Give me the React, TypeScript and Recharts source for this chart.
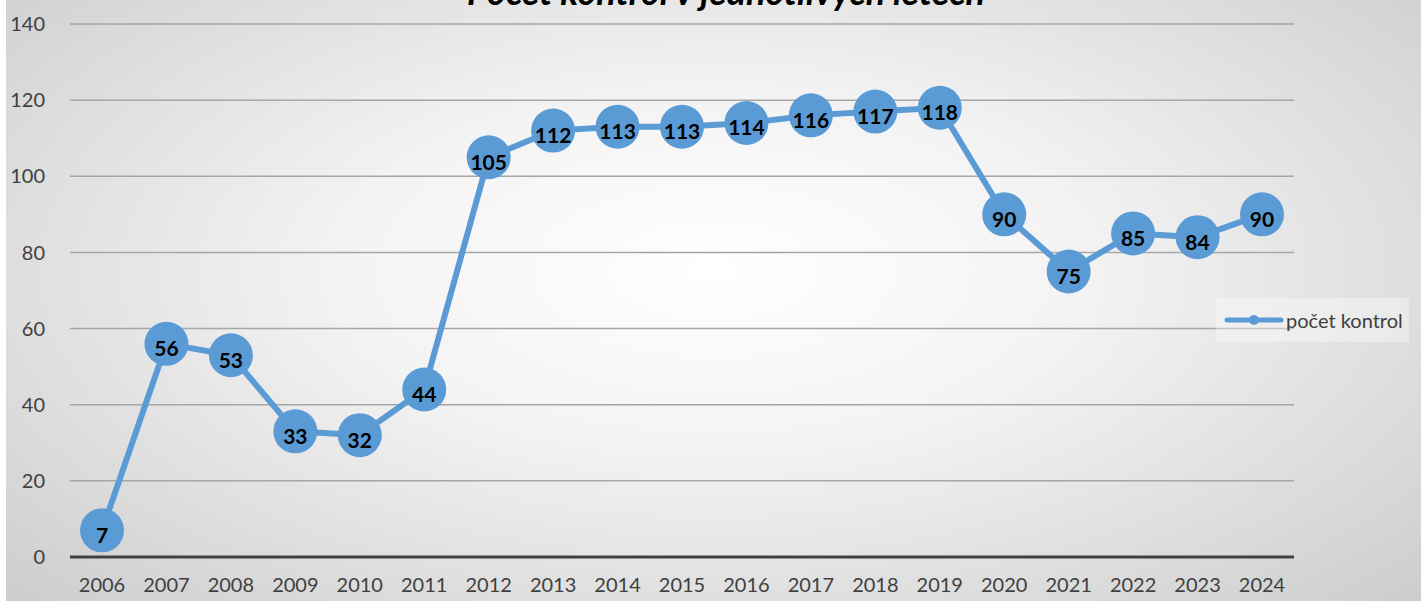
import { LineChart, Line, XAxis, YAxis, CartesianGrid, LabelList } from "recharts";

const years = [
  "2006", "2007", "2008", "2009", "2010", "2011", "2012", "2013", "2014", "2015",
  "2016", "2017", "2018", "2019", "2020", "2021", "2022", "2023", "2024",
];
const kontroly = [7, 56, 53, 33, 32, 44, 105, 112, 113, 113, 114, 116, 117, 118, 90, 75, 85, 84, 90];
const yTicks = [0, 20, 40, 60, 80, 100, 120, 140];

const seriesName = "počet kontrol";
const blue = "#5B9BD5";
const font = "Lato, 'Open Sans', sans-serif";

const data = years.map((year, i) => ({ year, value: kontroly[i] }));

function PointLabel(props: any) {
  const { x, y, value } = props;
  return (
    <text
      x={x}
      y={y + 4}
      textAnchor="middle"
      dominantBaseline="central"
      fontFamily={font}
      fontWeight={700}
      fontSize={21}
      fill="#000"
    >
      {value}
    </text>
  );
}

// legend drawn outside the chart so it doesn't eat into the plot area
function LegendBox() {
  return (
    <div
      style={{
        position: "absolute",
        left: 1210,
        top: 298,
        display: "flex",
        alignItems: "center",
        background: "rgba(255,255,255,0.35)",
        padding: "10px 6px 10px 8px",
        fontFamily: font,
        fontSize: 20,
        color: "#404040",
        whiteSpace: "nowrap",
      }}
    >
      <svg width={60} height={20} style={{ marginRight: 2 }}>
        <line x1={3} y1={10} x2={57} y2={10} stroke={blue} strokeWidth={5} strokeLinecap="round" />
        <circle cx={30} cy={10} r={5} fill={blue} />
      </svg>
      {seriesName}
    </div>
  );
}

export default function App() {
  return (
    <div
      style={{
        position: "absolute",
        left: 6,
        top: 0,
        width: 1415,
        height: 601,
        overflow: "hidden",
        background: "radial-gradient(ellipse 75% 85% at 50% 45%, #ffffff 0%, #f3f3f3 35%, #c8c8c8 100%)",
      }}
    >
      <div
        style={{
          position: "absolute",
          left: 0,
          width: 1440,
          top: -31,
          textAlign: "center",
          fontFamily: font,
          fontWeight: 700,
          fontStyle: "italic",
          fontSize: 36,
          lineHeight: "44px",
          color: "#000",
        }}
      >
        Počet kontrol v jednotlivých letech
      </div>
      <LineChart width={1415} height={601} data={data} margin={{ top: 24, right: 127, bottom: 14, left: 0 }}>
        <CartesianGrid vertical={false} stroke="#a6a6a6" strokeWidth={1.5} />
        <XAxis
          dataKey="year"
          height={30}
          padding={{ left: 32, right: 32 }}
          axisLine={{ stroke: "#404040", strokeWidth: 3 }}
          tickLine={false}
          tickSize={0}
          tickMargin={21}
          tick={{ fill: "#404040", fontSize: 20, fontFamily: font }}
          interval={0}
        />
        <YAxis
          width={64}
          domain={[0, 140]}
          ticks={yTicks}
          axisLine={false}
          tickLine={false}
          tickSize={0}
          tickMargin={25}
          tick={{ fill: "#404040", fontSize: 20, fontFamily: font }}
        />
        <Line
          type="linear"
          dataKey="value"
          name={seriesName}
          stroke={blue}
          strokeWidth={6}
          dot={{ r: 22, fill: blue, stroke: "none" }}
          activeDot={false}
          isAnimationActive={false}
        >
          <LabelList dataKey="value" content={PointLabel} />
        </Line>
      </LineChart>
      <LegendBox />
    </div>
  );
}
